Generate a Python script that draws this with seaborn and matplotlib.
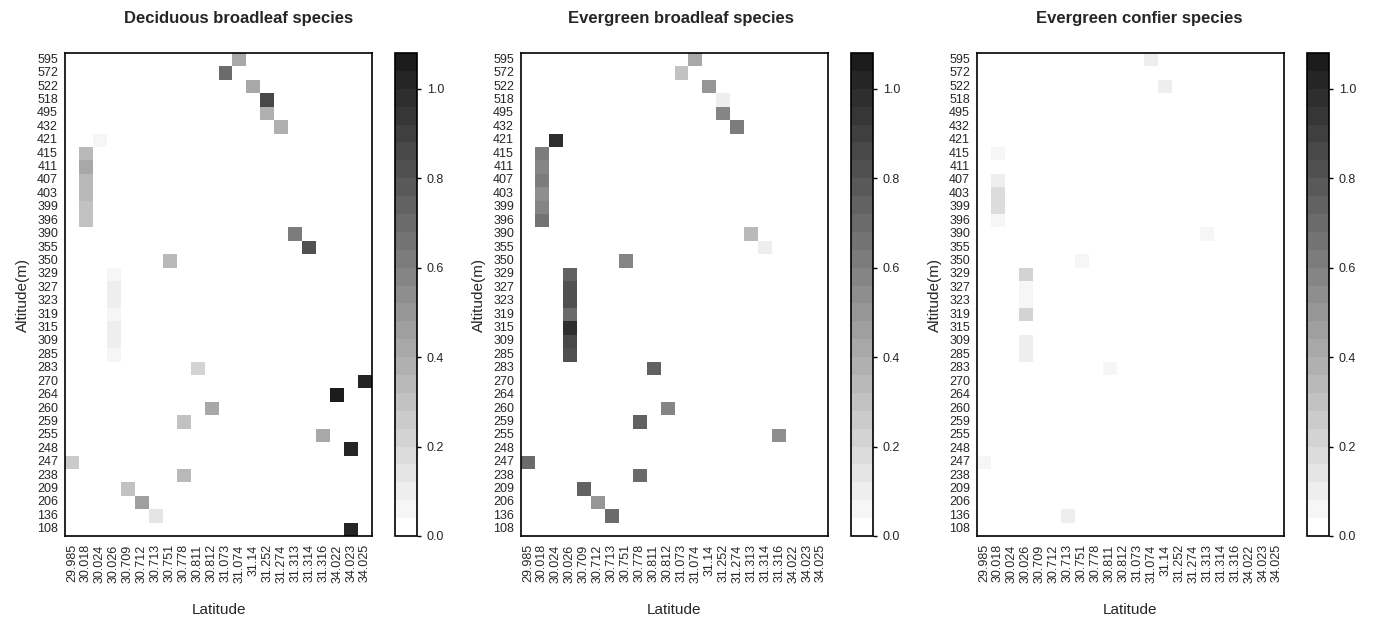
import numpy as np
import pandas as pd
import seaborn as sns
import matplotlib.pyplot as plt
from matplotlib.colors import ListedColormap

# rows (top to bottom) and columns of every panel
altitude = [595, 572, 522, 518, 495, 432, 421, 415, 411, 407, 403, 399, 396, 390,
            355, 350, 329, 327, 323, 319, 315, 309, 285, 283, 270, 264, 260, 259,
            255, 248, 247, 238, 209, 206, 136, 108]
latitude = ["29.985", "30.018", "30.024", "30.026", "30.709", "30.712", "30.713",
            "30.751", "30.778", "30.811", "30.812", "31.073", "31.074", "31.14",
            "31.252", "31.274", "31.313", "31.314", "31.316", "34.022", "34.023",
            "34.025"]

# (altitude, latitude, value)
deciduous = [
    (595, "31.074", 0.42), (572, "31.073", 0.69), (522, "31.14", 0.41),
    (518, "31.252", 0.86), (495, "31.252", 0.38), (432, "31.274", 0.38),
    (421, "30.024", 0.04), (415, "30.018", 0.35), (411, "30.018", 0.43),
    (407, "30.018", 0.35), (403, "30.018", 0.35), (399, "30.018", 0.30),
    (396, "30.018", 0.30), (390, "31.313", 0.63), (355, "31.314", 0.84),
    (350, "30.751", 0.35), (329, "30.026", 0.05), (327, "30.026", 0.11),
    (323, "30.026", 0.08), (319, "30.026", 0.05), (315, "30.026", 0.08),
    (309, "30.026", 0.08), (285, "30.026", 0.04), (283, "30.811", 0.21),
    (270, "34.025", 1.01), (264, "34.022", 1.05), (260, "30.812", 0.40),
    (259, "30.778", 0.30), (255, "31.316", 0.40), (248, "34.023", 1.02),
    (247, "29.985", 0.26), (238, "30.778", 0.35), (209, "30.709", 0.30),
    (206, "30.712", 0.47), (136, "30.713", 0.13), (108, "34.023", 1.02),
]
evergreen_broadleaf = [
    (595, "31.074", 0.43), (572, "31.073", 0.29), (522, "31.14", 0.49),
    (518, "31.252", 0.08), (495, "31.252", 0.60), (432, "31.274", 0.63),
    (421, "30.024", 1.00), (415, "30.018", 0.63), (411, "30.018", 0.60),
    (407, "30.018", 0.62), (403, "30.018", 0.55), (399, "30.018", 0.59),
    (396, "30.018", 0.64), (390, "31.313", 0.33), (355, "31.314", 0.11),
    (350, "30.751", 0.60), (329, "30.026", 0.74), (327, "30.026", 0.84),
    (323, "30.026", 0.84), (319, "30.026", 0.71), (315, "30.026", 0.98),
    (309, "30.026", 0.85), (285, "30.026", 0.84), (283, "30.811", 0.74),
    (260, "30.812", 0.58), (259, "30.778", 0.74), (255, "31.316", 0.55),
    (247, "29.985", 0.69), (238, "30.778", 0.70), (209, "30.709", 0.73),
    (206, "30.712", 0.48), (136, "30.713", 0.70),
]
evergreen_confier = [
    (595, "31.074", 0.08), (522, "31.14", 0.08), (415, "30.018", 0.05),
    (407, "30.018", 0.08), (403, "30.018", 0.17), (399, "30.018", 0.17),
    (396, "30.018", 0.05), (390, "31.313", 0.04), (350, "30.751", 0.07),
    (329, "30.026", 0.21), (327, "30.026", 0.04), (323, "30.026", 0.05),
    (319, "30.026", 0.21), (309, "30.026", 0.08), (285, "30.026", 0.08),
    (283, "30.811", 0.04), (247, "29.985", 0.04), (136, "30.713", 0.11),
]
titles = ["Deciduous broadleaf species", "Evergreen broadleaf species",
          "Evergreen confier species"]

sns.set_style("white")
plt.rcParams['font.family'] = ['Liberation Sans', 'DejaVu Sans']

W, H = 1376, 619
fig = plt.figure(figsize=(W / 100, H / 100), dpi=100)

# 27 grey steps, 0.04 each, white to near black
greys = np.linspace(1.0, 0.11, 27)
cmap = ListedColormap([(g, g, g) for g in greys])

def px(x0, y0, x1, y1):
    return [x0 / W, 1 - y1 / H, (x1 - x0) / W, (y1 - y0) / H]

lefts = [65, 521, 977]
title_x = [239, 681, 1139]

for k, cells in enumerate([deciduous, evergreen_broadleaf, evergreen_confier]):
    df = pd.DataFrame(cells, columns=["alt", "lat", "val"])
    grid = df.pivot(index="alt", columns="lat", values="val")
    grid = grid.reindex(index=altitude, columns=latitude)

    x0 = lefts[k]
    ax = fig.add_axes(px(x0, 53, x0 + 307, 536))
    cax = fig.add_axes(px(x0 + 330, 53, x0 + 352, 536))
    sns.heatmap(grid, ax=ax, cbar_ax=cax, cmap=cmap, vmin=0, vmax=1.08,
                xticklabels=latitude, yticklabels=altitude,
                cbar_kws={"ticks": [0, 0.2, 0.4, 0.6, 0.8, 1.0]})
    for s in ax.spines.values():
        s.set_visible(True)
        s.set_color("black")
        s.set_linewidth(1.2)
    ax.tick_params(length=0, labelsize=9, pad=6)
    ax.set_xticklabels(latitude, rotation=90)
    ax.set_yticklabels(altitude, rotation=0)
    ax.tick_params(axis="y", pad=5)
    ax.set_xlabel("Latitude", fontsize=11, labelpad=15)
    ax.set_ylabel("Altitude(m)", fontsize=11, labelpad=5)

    cb = ax.collections[0].colorbar
    cb.outline.set_visible(True)
    cb.outline.set_edgecolor("black")
    cb.outline.set_linewidth(1.2)
    cb.ax.yaxis.set_major_formatter(plt.FormatStrFormatter("%.1f"))
    cb.ax.tick_params(length=3, width=1, labelsize=9, color="black", pad=4)

    fig.text(title_x[k] / W, 1 - 18 / H, titles[k], ha="center", va="center",
             fontsize=12, fontweight="bold")

fig.savefig("out.png", dpi=100)
